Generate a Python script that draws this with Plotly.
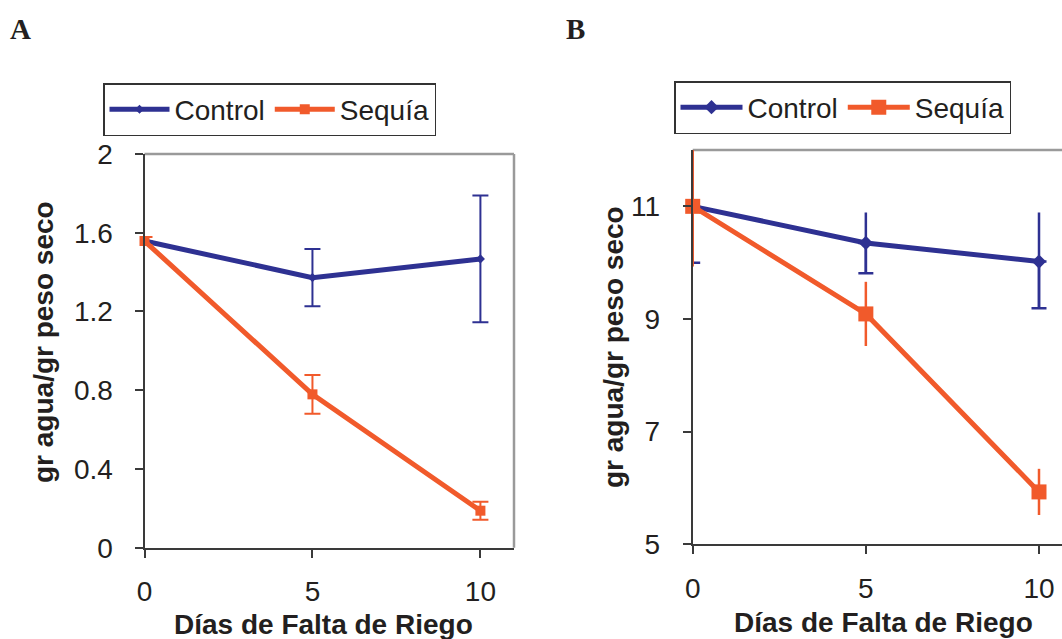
import plotly.graph_objects as go

# ---------------- data ----------------
dias = [0, 5, 10]

# Panel A
a_control = [1.558, 1.372, 1.467]
a_control_err = [0.0, 0.145, 0.322]
a_sequia = [1.558, 0.779, 0.188]
a_sequia_err = [0.02, 0.098, 0.046]

# Panel B
b_control = [11.0, 10.35, 10.02]
b_control_err_up = [1.0, 0.54, 0.87]
b_control_err_down = [1.0, 0.54, 0.83]
b_sequia = [11.0, 9.09, 5.93]
b_sequia_err = [1.07, 0.57, 0.41]

a_yticks = [0, 0.4, 0.8, 1.2, 1.6, 2]
a_yticklabels = ["0", "0.4", "0.8", "1.2", "1.6", "2"]
b_yticks = [5, 7, 9, 11]
x_ticks = [0, 5, 10]

names = ["Control", "Sequía"]
panel_labels = ["A", "B"]
x_title = "Días de Falta de Riego"
y_title = "gr agua/gr peso seco"

# ---------------- style ----------------
C_BLUE = "#2E3192"
C_ORANGE = "#F15A2B"
TXT = "#231F20"
AXC = "#3A3A3A"
BORDER = "#9A9A9A"
FONT = "Liberation Sans, Arial, sans-serif"

W, H = 1062, 639

fig = go.Figure()

# ---- Panel A ----
fig.add_trace(go.Scatter(
    x=dias, y=a_control, name=names[0], mode="lines+markers",
    line=dict(color=C_BLUE, width=5),
    marker=dict(symbol="diamond", size=7, color=C_BLUE),
    error_y=dict(type="data", array=a_control_err, color=C_BLUE, thickness=2, width=8),
    xaxis="x", yaxis="y", legend="legend", cliponaxis=False,
))
fig.add_trace(go.Scatter(
    x=dias, y=a_sequia, name=names[1], mode="lines+markers",
    line=dict(color=C_ORANGE, width=5),
    marker=dict(symbol="square", size=10, color=C_ORANGE),
    error_y=dict(type="data", array=a_sequia_err, color=C_ORANGE, thickness=2, width=8),
    xaxis="x", yaxis="y", legend="legend", cliponaxis=False,
))

# ---- Panel B ----
# lower caps for Control
fig.add_trace(go.Scatter(
    x=dias, y=b_control, mode="markers", showlegend=False, hoverinfo="skip",
    marker=dict(size=1, opacity=0, color=C_BLUE),
    error_y=dict(type="data", symmetric=False, array=[0, 0, 0],
                 arrayminus=b_control_err_down, color=C_BLUE, thickness=2.5, width=7.5),
    xaxis="x2", yaxis="y2", cliponaxis=False,
))
fig.add_trace(go.Scatter(
    x=dias, y=b_control, name=names[0], mode="lines+markers",
    line=dict(color=C_BLUE, width=5),
    marker=dict(symbol="diamond", size=11, color=C_BLUE),
    error_y=dict(type="data", symmetric=False, array=b_control_err_up,
                 arrayminus=b_control_err_down, color=C_BLUE, thickness=2.5, width=0),
    xaxis="x2", yaxis="y2", legend="legend2", cliponaxis=False,
))
fig.add_trace(go.Scatter(
    x=dias, y=b_sequia, name=names[1], mode="lines+markers",
    line=dict(color=C_ORANGE, width=5),
    marker=dict(symbol="square", size=15, color=C_ORANGE),
    error_y=dict(type="data", array=b_sequia_err, color=C_ORANGE, thickness=2.5, width=0),
    xaxis="x2", yaxis="y2", legend="legend2", cliponaxis=False,
))

axis_common = dict(
    showgrid=False, zeroline=False, showline=True, linecolor=AXC, linewidth=2,
    ticks="outside", ticklen=8, tickwidth=1.5, tickcolor=AXC, automargin=False,
    tickfont=dict(family=FONT, size=28, color=TXT),
)

ax_a = (144.5, 514)
ay_a = (547.7, 154)
ax_b0 = 692.7
ay_b = (544.3, 150)

fig.update_layout(
    width=W, height=H,
    margin=dict(l=0, r=0, t=0, b=0, autoexpand=False),
    paper_bgcolor="white", plot_bgcolor="white",
    font=dict(family=FONT, color=TXT),
    xaxis=dict(domain=[ax_a[0] / W, ax_a[1] / W], range=[0, 11],
               tickvals=x_ticks, anchor="y", ticklabelstandoff=10, **axis_common),
    yaxis=dict(domain=[1 - ay_a[0] / H, 1 - ay_a[1] / H], range=[0, 2],
               tickvals=a_yticks, ticktext=a_yticklabels, anchor="x",
               ticklabelstandoff=16, **axis_common),
    xaxis2=dict(domain=[ax_b0 / W, 1.0], range=[0, (W - ax_b0) / 34.63],
                tickvals=x_ticks, anchor="y2", ticklabelstandoff=10, **axis_common),
    yaxis2=dict(domain=[1 - ay_b[0] / H, 1 - ay_b[1] / H], range=[5, 12],
                tickvals=b_yticks, anchor="x2", ticklabelstandoff=17, **axis_common),
    legend=dict(orientation="h", x=103 / W, y=1 - 83 / H, xanchor="left", yanchor="top",
                bordercolor="#333333", borderwidth=1.5, bgcolor="white",
                font=dict(family=FONT, size=28, color=TXT), itemwidth=60,
                tracegroupgap=0),
    legend2=dict(orientation="h", x=674 / W, y=1 - 81 / H, xanchor="left", yanchor="top",
                 bordercolor="#333333", borderwidth=1.5, bgcolor="white",
                 font=dict(family=FONT, size=28, color=TXT), itemwidth=62,
                 tracegroupgap=0),
    showlegend=True,
)

# grey frame (top / right)
fig.add_shape(type="line", xref="x domain", yref="y domain", x0=0, x1=1, y0=1, y1=1,
              line=dict(color=BORDER, width=2.5), layer="below")
fig.add_shape(type="line", xref="x domain", yref="y domain", x0=1, x1=1, y0=0, y1=1,
              line=dict(color=BORDER, width=2.5), layer="below")
fig.add_shape(type="line", xref="x2 domain", yref="y2 domain", x0=0, x1=1, y0=1, y1=1,
              line=dict(color=BORDER, width=2.5), layer="below")

# axis titles and panel labels
ann = []
ann.append(dict(text=x_title, x=323 / W, y=1 - 624 / H, xref="paper", yref="paper",
                showarrow=False, font=dict(family=FONT, size=28, color=TXT),
                xanchor="center", yanchor="middle"))
ann.append(dict(text=x_title, x=883 / W, y=1 - 622 / H, xref="paper", yref="paper",
                showarrow=False, font=dict(family=FONT, size=28, color=TXT),
                xanchor="center", yanchor="middle"))
ann.append(dict(text=y_title, x=44 / W, y=1 - 342 / H, xref="paper", yref="paper",
                showarrow=False, textangle=-90, font=dict(family=FONT, size=28, color=TXT),
                xanchor="center", yanchor="middle"))
ann.append(dict(text=y_title, x=614 / W, y=1 - 347 / H, xref="paper", yref="paper",
                showarrow=False, textangle=-90, font=dict(family=FONT, size=28, color=TXT),
                xanchor="center", yanchor="middle"))
ann.append(dict(text="<b>" + panel_labels[0] + "</b>", x=20 / W, y=1 - 29 / H,
                xref="paper", yref="paper", showarrow=False,
                font=dict(family="Liberation Serif, Times New Roman, serif", size=29, color=TXT),
                xanchor="center", yanchor="middle"))
ann.append(dict(text="<b>" + panel_labels[1] + "</b>", x=575 / W, y=1 - 29 / H,
                xref="paper", yref="paper", showarrow=False,
                font=dict(family="Liberation Serif, Times New Roman, serif", size=29, color=TXT),
                xanchor="center", yanchor="middle"))
for a in ann[:4]:
    a["text"] = "<b>" + a["text"] + "</b>"
fig.update_layout(annotations=ann)

fig.write_html("out.html")
